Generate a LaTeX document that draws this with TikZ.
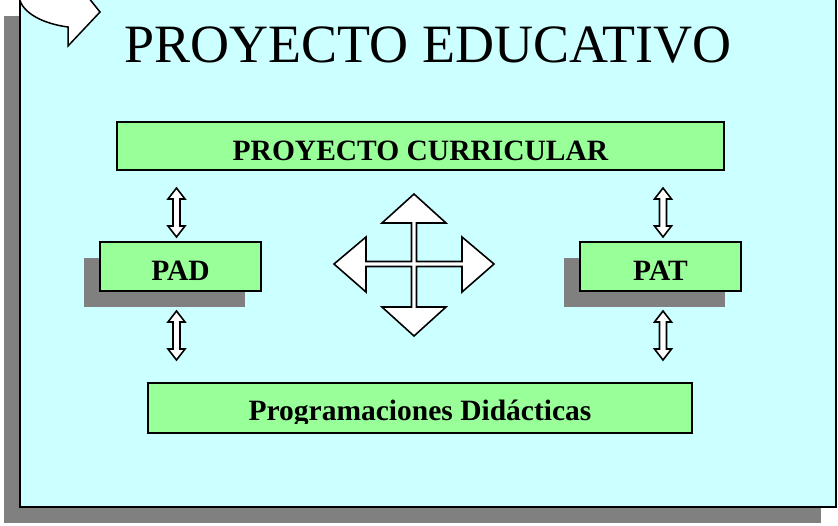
\documentclass[tikz,border=0pt]{standalone}
\usepackage{fontspec}
\setmainfont{Liberation Serif}
\definecolor{panelcyan}{HTML}{CCFFFF}
\definecolor{boxgreen}{HTML}{99FF99}
\definecolor{shadowgray}{HTML}{808080}
\tikzset{
  panel/.style={draw=black, line width=2pt, fill=panelcyan},
  shade/.style={fill=shadowgray, draw=none},
  greenbox/.style={draw=black, line width=1.5pt, fill=boxgreen, inner sep=0pt},
  lbl/.style={font=\fontsize{29.5}{29.5}\selectfont\bfseries, anchor=base, inner sep=0pt},
  titlelbl/.style={font=\fontsize{54}{54}\selectfont, anchor=base, inner sep=0pt},
  arrowshape/.style={draw=black, line width=1.6pt, fill=white, line join=miter},
  curl/.style={draw=black, line width=1.5pt, fill=white},
  darr/.pic={
    \path[arrowshape] (0,-24.5) -- (8.5,-13.5) -- (3.5,-13.5) -- (3.5,13.5) -- (8.5,13.5)
      -- (0,24.5) -- (-8.5,13.5) -- (-3.5,13.5) -- (-3.5,-13.5) -- (-8.5,-13.5) -- cycle;
  }
}
\begin{document}
\begin{tikzpicture}[x=1pt,y=-1pt]
\useasboundingbox (0,0) rectangle (838,525);
\fill[white] (0,0) rectangle (838,525);
% main panel with shadow
\path[shade] (4,16) rectangle (821,523);
\path[panel] (20,-3) rectangle (836,507);
% curled corner
\path[curl] (19,-3) .. controls (22,14) and (45,24) .. (68,27) -- (68,46) -- (100,12) -- (88,-3) -- cycle;
% title
\node[titlelbl] (title) at (428,62) {PROYECTO EDUCATIVO};
% proyecto curricular
\node[greenbox, minimum width=607pt, minimum height=48pt] (pc) at (420.5,146) {};
\node[lbl] (pct) at (420.5,160) {PROYECTO CURRICULAR};
% PAD
\path[shade] (84,258) rectangle (245,307);
\node[greenbox, minimum width=161pt, minimum height=49pt] (pad) at (180.5,266.5) {};
\node[lbl] (padt) at (180.5,280) {PAD};
% PAT
\path[shade] (564,258) rectangle (725,307);
\node[greenbox, minimum width=161pt, minimum height=49pt] (pat) at (660.5,266.5) {};
\node[lbl] (patt) at (660.5,280) {PAT};
% programaciones
\node[greenbox, minimum width=544pt, minimum height=50pt] (prog) at (420,408) {};
\begin{scope}
  \clip (148,383) rectangle (692,423);
  \node[lbl] (progt) at (420,420) {Programaciones Didácticas};
\end{scope}
% double arrows
\pic at (176.5,212.5) {darr};
\pic at (176.5,335.5) {darr};
\pic at (663,212.5) {darr};
\pic at (663,335.5) {darr};
% four-way arrow
\path[arrowshape] (414,194) -- (446,223) -- (416.5,223) -- (416.5,261.5) -- (462,261.5)
  -- (462,237) -- (494,264) -- (462,292) -- (462,266.5) -- (416.5,266.5) -- (416.5,307)
  -- (446,307) -- (414,336) -- (382,307) -- (411.5,307) -- (411.5,266.5) -- (366,266.5)
  -- (366,292) -- (334,264) -- (366,237) -- (366,261.5) -- (411.5,261.5) -- (411.5,223)
  -- (382,223) -- cycle;
\end{tikzpicture}
\end{document}
